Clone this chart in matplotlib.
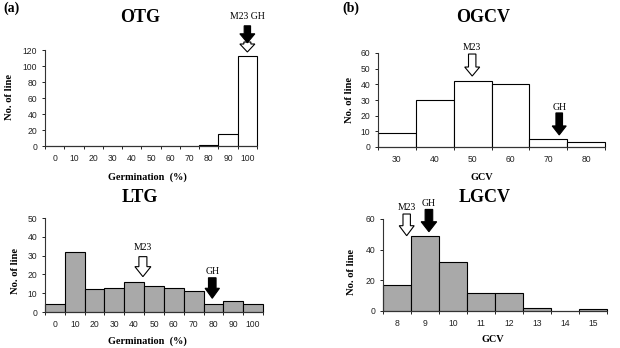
import matplotlib
matplotlib.use("Agg")
import matplotlib.pyplot as plt
import numpy as np
from matplotlib.patches import Polygon
from matplotlib import transforms as mtrans

# ---------------- data ----------------
otg_cats = ["0", "10", "20", "30", "40", "50", "60", "70", "80", "90", "100"]
otg_vals = [0, 0, 0, 0, 0, 0, 0, 0, 1, 15, 113]

ogcv_cats = ["30", "40", "50", "60", "70", "80"]
ogcv_vals = [9, 30, 42, 40, 5, 3]

ltg_cats = ["0", "10", "20", "30", "40", "50", "60", "70", "80", "90", "100"]
ltg_vals = [4, 32, 12, 13, 16, 14, 13, 11, 4, 6, 4]

lgcv_cats = ["8", "9", "10", "11", "12", "13", "14", "15"]
lgcv_vals = [17, 49, 32, 12, 12, 2, 0, 1]

W, H = 620, 348
fig = plt.figure(figsize=(W / 100, H / 100), dpi=100)
fig.patch.set_facecolor("white")

SERIF = ["Liberation Serif", "DejaVu Serif"]
SANS = ["Liberation Sans", "DejaVu Sans"]


def px_axes(x0, y0, x1, y1):
    return fig.add_axes([x0 / W, 1 - y1 / H, (x1 - x0) / W, (y1 - y0) / H])


def hist_panel(ax, cats, vals, ymax, ystep, color):
    n = len(cats)
    x = np.arange(n)
    bars = ax.bar(x, vals, width=1.0, color=color, edgecolor="black", linewidth=0.8)
    for b in bars:
        b.set_clip_on(False)
    ax.set_xlim(-0.5, n - 0.5)
    ax.set_ylim(0, ymax)
    ax.set_xticks(x)
    ax.set_xticklabels(cats, fontsize=6.2, family=SANS, color="#222222")
    ax.set_xticks(np.arange(n + 1) - 0.5, minor=True)
    ax.tick_params(axis="x", which="major", length=0, pad=5.8)
    ax.tick_params(axis="x", which="minor", length=2.5, width=0.6, direction="out")
    ax.set_yticks(np.arange(0, ymax + 0.1, ystep))
    ax.tick_params(axis="y", length=2.2, width=0.6, pad=3.5, labelsize=6.2,
                   labelcolor="#222222")
    for lab in ax.get_yticklabels():
        lab.set_family(SANS)
    for s in ["top", "right"]:
        ax.spines[s].set_visible(False)
    for s in ["left", "bottom"]:
        ax.spines[s].set_linewidth(0.8)
        ax.spines[s].set_color("#333333")


def down_arrow(ax, xd, ytip, length, head_len, head_half, shaft_half, fc):
    verts = np.array([
        (-shaft_half, length), (shaft_half, length), (shaft_half, head_len),
        (head_half, head_len), (0, 0), (-head_half, head_len), (-shaft_half, head_len),
    ])
    tr = (mtrans.Affine2D().scale(1 / 100.0) + fig.dpi_scale_trans
          + mtrans.ScaledTranslation(xd, ytip, ax.transData))
    p = Polygon(verts, closed=True, facecolor=fc, edgecolor="black",
                linewidth=0.8, transform=tr, clip_on=False, zorder=5)
    ax.add_patch(p)


def label(ax, xd, yd, s):
    ax.text(xd, yd, s, ha="center", va="center", fontsize=7, family=SERIF,
            clip_on=False)


GRAY = "#a9a9a9"

# ---- OTG ----
ax1 = px_axes(45, 50, 257, 146)
hist_panel(ax1, otg_cats, otg_vals, 120, 20, "white")
down_arrow(ax1, 10, 117.5, 10, 8, 7.5, 3.5, "white")
down_arrow(ax1, 10, 129, 17, 9, 7.5, 3.2, "black")
label(ax1, 10, 162, "M23 GH")

# ---- OGCV ----
ax2 = px_axes(378, 53, 605, 147)
hist_panel(ax2, ogcv_cats, ogcv_vals, 60, 10, "white")
down_arrow(ax2, 1.99, 45.3, 22, 9, 7.5, 3.7, "white")
down_arrow(ax2, 4.29, 7.7, 22, 9, 7.0, 3.3, "black")
label(ax2, 1.99, 63.8, "M23")
label(ax2, 4.29, 25.5, "GH")

# ---- LTG ----
ax3 = px_axes(45, 218, 263, 312)
hist_panel(ax3, ltg_cats, ltg_vals, 50, 10, GRAY)
down_arrow(ax3, 4.44, 18.8, 20, 10, 8.0, 4.0, "white")
down_arrow(ax3, 7.94, 7.3, 20.5, 10, 7.2, 3.8, "black")
label(ax3, 4.44, 34.2, "M23")
label(ax3, 7.94, 21.4, "GH")

# ---- LGCV ----
ax4 = px_axes(383, 219, 607, 311)
hist_panel(ax4, lgcv_cats, lgcv_vals, 60, 20, GRAY)
down_arrow(ax4, 0.346, 49.1, 21.7, 10, 7.5, 3.7, "white")
down_arrow(ax4, 1.14, 51.7, 22.3, 10, 7.8, 3.8, "black")
label(ax4, 0.346, 67.3, "M23")
label(ax4, 1.14, 70.2, "GH")


def ftext(x, y, s, **kw):
    fig.text(x / W, 1 - y / H, s, **kw)


# titles
ftext(140, 18, "OTG", fontsize=13, fontweight="bold", family=SERIF, ha="center", va="center")
ftext(483, 18, "OGCV", fontsize=13, fontweight="bold", family=SERIF, ha="center", va="center")
ftext(140, 198, "LTG", fontsize=13, fontweight="bold", family=SERIF, ha="center", va="center")
ftext(485, 198, "LGCV", fontsize=13, fontweight="bold", family=SERIF, ha="center", va="center")

# panel letters
ftext(12, 8, "(a)", fontsize=10, fontweight="bold", family=SERIF, ha="center", va="center")
ftext(351, 8, "(b)", fontsize=10, fontweight="bold", family=SERIF, ha="center", va="center")

# x labels
XL = dict(fontsize=7.4, fontweight="bold", family=SERIF, ha="center", va="center")
ftext(147, 177, "Germination  (%)", **XL)
ftext(482, 177, "GCV", **XL)
ftext(147, 341, "Germination  (%)", **XL)
ftext(493, 340, "GCV", **XL)

# y labels
YL = dict(fontsize=7.6, fontweight="bold", family=SERIF, ha="center", va="center", rotation=90)
ftext(10, 97, "No. of line", **YL)
ftext(349, 100, "No. of line", **YL)
ftext(15, 271, "No. of line", **YL)
ftext(352, 272, "No. of line", **YL)

fig.savefig("out.png", dpi=100, facecolor="white")
